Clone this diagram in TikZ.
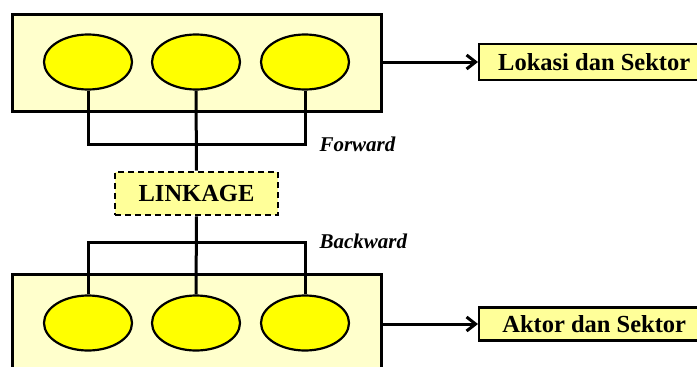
\documentclass[tikz,border=0pt]{standalone}
\usepackage{fontspec}
\setmainfont{Liberation Serif}
\usepackage{tikz}
\usetikzlibrary{arrows.meta, shapes.geometric, positioning, calc}
\definecolor{panel}{HTML}{FFFFCC}
\definecolor{cell}{HTML}{FFFF00}
\definecolor{tag}{HTML}{FFFF99}
\tikzset{
    group/.style={
        rectangle,
        line width=3pt,
        draw=black,
        fill=panel,
        minimum width=369pt,
    },
    unit/.style={
        ellipse,
        line width=2.2pt,
        draw=black,
        fill=cell,
        minimum width=88pt,
        minimum height=55pt,
    },
    linkbox/.style={
        rectangle,
        line width=2.6pt,
        dash pattern=on 6pt off 4pt,
        draw=black,
        fill=tag,
        minimum width=163pt,
        minimum height=43pt,
        font=\bfseries\fontsize{24.5}{28}\selectfont,
    },
    outbox/.style={
        rectangle,
        line width=2.4pt,
        draw=black,
        fill=tag,
        anchor=west,
        minimum width=230pt,
        font=\bfseries\fontsize{24.5}{28}\selectfont,
    },
    dirlabel/.style={
        anchor=west,
        font=\bfseries\itshape\fontsize{21}{24}\selectfont,
    },
    wire/.style={line width=3pt},
}

\begin{document}
\begin{tikzpicture}[x=1pt, y=-1pt]
    \useasboundingbox (0,0) rectangle (697,367);
    \clip (0,0) rectangle (697,367);

    % upper group
    \node[group, minimum height=97pt] (top) at (196.5,62.5) {};
    \node[unit] (t1) at (88,62) {};
    \node[unit] (t2) at (196,62) {};
    \node[unit] (t3) at (305,62) {};

    % lower group, runs off the bottom edge
    \node[group, minimum height=126pt] (bot) at (196.5,337) {};
    \node[unit] (b1) at (88,323) {};
    \node[unit] (b2) at (196,323) {};
    \node[unit] (b3) at (305,323) {};

    \node[linkbox] (link) at (196.5,193.5) {LINKAGE};
    \coordinate (fj) at (196,144);
    \coordinate (bj) at (196,242);

    \node[outbox, minimum height=36pt] (lok) at (478,62) {Lokasi dan Sektor};
    \node[outbox, minimum height=33pt] (akt) at (478,324) {Aktor dan Sektor};

    \node[dirlabel] (fwd) at (316,144) {Forward};
    \node[dirlabel] (bwd) at (316,241) {Backward};

    % forward branch
    \draw[wire] (t1.south) -- (t1.south |- fj) -- (t3.south |- fj) -- (t3.south);
    \draw[wire] (t2.south) -- (link.north);
    % backward branch
    \draw[wire] (b1.north) -- (b1.north |- bj) -- (b3.north |- bj) -- (b3.north);
    \draw[wire] (b2.north) -- (link.south);

    \draw[wire, -{Straight Barb[length=9pt, width=14pt]}] (top.east |- lok.west) -- (lok.west);
    \draw[wire, -{Straight Barb[length=9pt, width=14pt]}] (bot.east |- akt.west) -- (akt.west);
\end{tikzpicture}
\end{document}
